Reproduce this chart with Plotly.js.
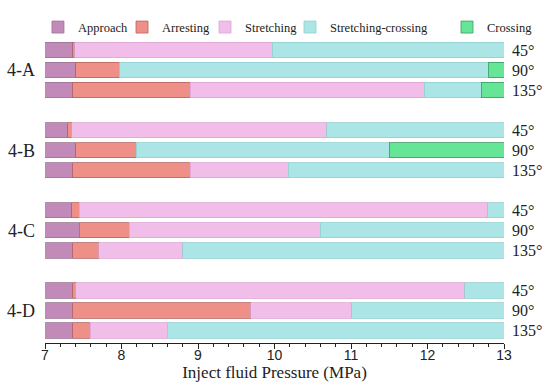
<!DOCTYPE html>
<html>
<head>
<meta charset="utf-8">
<script src="https://cdn.plot.ly/plotly-3.0.1.min.js"></script>
<style>html,body{margin:0;padding:0;background:#fff;}#chart{width:550px;height:389px;}</style>
</head>
<body>
<div id="chart"></div>
<script>
// Bar order: 4-A (45°,90°,135°), 4-B, 4-C, 4-D
const groups = ["4-A", "4-B", "4-C", "4-D"];
const angles = ["45°", "90°", "135°"];
const stageNames = ["Approach", "Arresting", "Stretching", "Stretching-crossing", "Crossing"];
// End pressure (MPa) of each stage for each bar
const approachEnd   = [7.36, 7.40, 7.36, 7.30, 7.40, 7.36, 7.35, 7.45, 7.36, 7.36, 7.36, 7.36];
const arrestingEnd  = [7.39, 7.98, 8.90, 7.35, 8.19, 8.90, 7.45, 8.10, 7.70, 7.40, 9.69, 7.59];
const stretchingEnd = [9.97, 7.98, 11.96, 10.68, 8.19, 10.18, 12.79, 10.60, 8.80, 12.49, 11.01, 8.60];
const stretchCrossEnd = [13.0, 12.80, 12.70, 13.0, 11.50, 13.0, 13.0, 13.0, 13.0, 13.0, 13.0, 13.0];
const crossingEnd   = [13.0, 13.0, 13.0, 13.0, 13.0, 13.0, 13.0, 13.0, 13.0, 13.0, 13.0, 13.0];
const xTicks = [7, 8, 9, 10, 11, 12, 13];

const colors = ["#c28ab9", "#ee8f88", "#f1bde9", "#abe5e6", "#66e596"];
const lineColors = ["#9a7492", "#b86460", "#dca4d4", "#92cfd1", "#3a9e60"];
const legendX = [-0.0153, 0.1678, 0.3486, 0.5338, 0.8758];

// slot positions: 4 slots per group (3 bars + gap)
const ySlots = [];
groups.forEach((g, gi) => angles.forEach((a, ai) => ySlots.push(gi * 4 + ai)));

const ends = [approachEnd, arrestingEnd, stretchingEnd, stretchCrossEnd, crossingEnd];
const traces = stageNames.map((name, si) => {
  const len = ends[si].map((e, i) => si === 0 ? e : Math.max(0, e - ends[si - 1][i]));
  return {
    type: "bar", orientation: "h", name: name,
    y: ySlots, x: len,
    width: 0.76,
    legend: si === 0 ? "legend" : "legend" + (si + 1),
    marker: {color: colors[si], line: {color: lineColors[si], width: 0.8}},
    hoverinfo: "skip"
  };
});

const annotations = ySlots.map((y, i) => ({
  xref: "paper", yref: "y", x: 1, xanchor: "left", xshift: 6, y: y,
  text: angles[i % 3], showarrow: false,
  font: {family: "Liberation Serif, Times New Roman, serif", size: 16, color: "#222"}
}));

const legendFont = {family: "Liberation Serif, Times New Roman, serif", size: 12.5, color: "#222"};

const layout = {
  width: 550, height: 389,
  margin: {l: 45, r: 46, t: 28, b: 46},
  paper_bgcolor: "#fff", plot_bgcolor: "#fff",
  barmode: "stack",
  bargap: 0,
  showlegend: true,
  xaxis: {range: [7, 13], tickvals: xTicks, ticks: "outside", ticklen: 5, tickwidth: 1,
    tickcolor: "#222", showline: true, linecolor: "#222", linewidth: 1, showgrid: false, zeroline: false,
    ticklabelstandoff: -6,
    minor: {dtick: 0.2, ticks: "outside", ticklen: 3, tickcolor: "#222", showgrid: false},
    tickfont: {family: "Liberation Sans, Arial, sans-serif", size: 14, color: "#222"},
    title: {text: "Inject fluid Pressure (MPa)", standoff: 2,
      font: {family: "Liberation Serif, Times New Roman, serif", size: 17, color: "#222"}}},
  yaxis: {range: [14.62, -0.55], tickvals: groups.map((g, gi) => gi * 4 + 1), ticktext: groups,
    showgrid: false, zeroline: false, showline: false, ticks: "", ticklabelstandoff: 9,
    tickfont: {family: "Liberation Serif, Times New Roman, serif", size: 18, color: "#222"}},
  annotations: annotations
};
legendX.forEach((lx, i) => {
  const key = i === 0 ? "legend" : "legend" + (i + 1);
  layout[key] = {orientation: "h", x: lx, xanchor: "left", y: 1.038, yanchor: "middle",
    font: legendFont, bgcolor: "rgba(0,0,0,0)", borderwidth: 0};
});

Plotly.newPlot("chart", traces, layout, {displayModeBar: false, staticPlot: true});
</script>
</body>
</html>
